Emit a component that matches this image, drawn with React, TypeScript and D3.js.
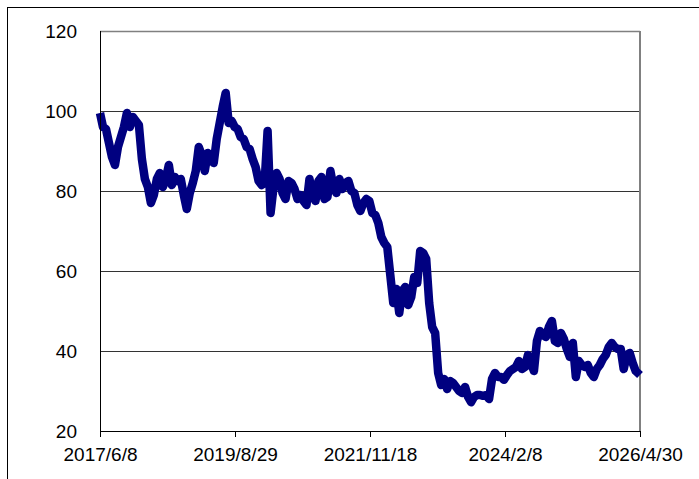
import React from "react";
import * as d3 from "d3";

// index values sampled every 18 days from the first date
const startDate = new Date(2017, 5, 8);
const endDate = new Date(2026, 3, 30);
const stepDays = 18;

const values: number[] = [
  99.5, 96, 95.5, 92, 88.5, 86.5, 91, 93.5, 96, 99.5,
  96, 98.5, 97.5, 96.5, 88, 83, 81, 77, 79, 83,
  84.5, 81, 83, 86.5, 81.5, 83.5, 82.5, 83, 79, 75.5,
  79.5, 82, 85, 91, 89, 85, 89.5, 89, 87, 93,
  97, 101, 104.5, 97, 97.5, 96, 95.5, 93.5, 93, 91,
  90.5, 88, 86, 82.5, 81.5, 82, 95, 74.5, 81, 84.5,
  83, 79.5, 78, 82.5, 82, 80.5, 78, 79, 77.5, 76.5,
  83, 79, 77.5, 82.5, 83.5, 78, 78.5, 85, 81, 79.5,
  83, 80.5, 82, 82.5, 80, 79.5, 76.5, 75, 77, 78,
  77.5, 74.5, 74, 72, 68.5, 67, 66, 59, 52, 55.5,
  49.5, 55, 56, 51.5, 53.5, 58.5, 57, 65, 64.5, 63,
  52, 46, 44.5, 34.5, 31.5, 33, 30.5, 32.5, 32, 31,
  30, 29.5, 31, 28.5, 27.2, 28.5, 29, 29, 28.8, 29,
  28, 33, 34.5, 33.5, 33.5, 32.8, 34, 35, 35.5, 36,
  37.5, 35.5, 36, 39, 37, 35, 42.5, 45, 44, 43.5,
  46, 47.5, 42.5, 42, 44.5, 43, 40.5, 38.5, 42, 33.5,
  37.5, 36.5, 36, 36.5, 34.5, 33.5, 35.5, 36.5, 38, 39,
  41, 42, 41, 40.5, 40.5, 35.5, 39, 39.5, 37, 35,
  34,
];

const yTicks = [20, 40, 60, 80, 100, 120];
const xTickLabels = ["2017/6/8", "2019/8/29", "2021/11/18", "2024/2/8", "2026/4/30"];

const parseTick = d3.timeParse("%Y/%m/%d");

export default function App() {
  const width = 699;
  const height = 479;
  const left = 100;
  const right = 640;
  const top = 31;
  const bottom = 431;

  const x = d3.scaleTime().domain([startDate, endDate]).range([left, right]);
  const y = d3.scaleLinear().domain([20, 120]).range([bottom, top]);

  const data = values.map((v, i) => ({
    date: i === values.length - 1 ? endDate : d3.timeDay.offset(startDate, i * stepDays),
    value: v,
  }));

  const line = d3
    .line<{ date: Date; value: number }>()
    .x((d) => x(d.date))
    .y((d) => y(d.value));

  const font = "Arial, 'Liberation Sans', sans-serif";

  return (
    <svg
      width={width}
      height={height}
      style={{ position: "absolute", left: 0, top: 0, background: "#fff" }}
    >
      <rect x={7.5} y={7.5} width={900} height={700} fill="#fff" stroke="#000" />

      {/* grid */}
      {yTicks.slice(1, -1).map((t) => (
        <line key={t} x1={left} x2={right} y1={y(t) + 0.5} y2={y(t) + 0.5} stroke="#333" strokeWidth={1} />
      ))}

      {/* plot frame top / right */}
      <line x1={left} x2={right} y1={top + 0.5} y2={top + 0.5} stroke="#808080" strokeWidth={1.5} />
      <line x1={right} x2={right} y1={top} y2={bottom} stroke="#808080" strokeWidth={2} />

      {/* series */}
      <path
        d={line(data) as string}
        fill="none"
        stroke="#000080"
        strokeWidth={8.5}
        strokeLinejoin="round"
        strokeLinecap="butt"
      />

      {/* axes */}
      <line x1={left + 0.5} x2={left + 0.5} y1={top} y2={bottom + 1} stroke="#000" />
      <line x1={left} x2={right + 1} y1={bottom + 0.5} y2={bottom + 0.5} stroke="#000" />

      {yTicks.map((t) => (
        <text
          key={t}
          x={77}
          y={y(t)}
          dy="0.36em"
          textAnchor="end"
          fontFamily={font}
          fontSize={19}
          fill="#000"
        >
          {t}
        </text>
      ))}

      {xTickLabels.map((s) => {
        const px = Math.round(x(parseTick(s) as Date)) + 0.5;
        return (
          <g key={s}>
            <line x1={px} x2={px} y1={bottom} y2={bottom + 6} stroke="#000" />
            <text x={px} y={461} textAnchor="middle" fontFamily={font} fontSize={19} fill="#000">
              {s}
            </text>
          </g>
        );
      })}
    </svg>
  );
}
